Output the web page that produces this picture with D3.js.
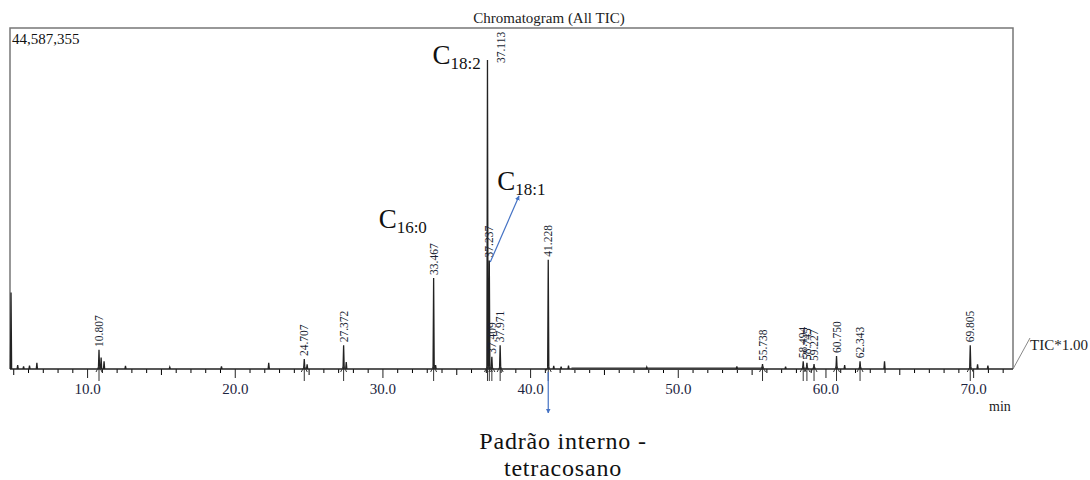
<!DOCTYPE html>
<html>
<head>
<meta charset="utf-8">
<script src="https://cdn.jsdelivr.net/npm/d3@7"></script>
<style>
  body { margin: 0; background: #fff; }
  svg text { font-family: "Liberation Serif", "DejaVu Serif", serif; }
</style>
</head>
<body>
<script>
// picos identificados (min) e intensidades (contagens)
const peakTimes = [10.807, 24.707, 27.372, 33.467, 37.113, 37.237, 37.409, 37.971, 41.228,
                   55.738, 58.494, 58.745, 59.227, 60.750, 62.343, 69.805]
const peakHeights = [2500000, 1300000, 3100000, 11900000, 40400000, 14200000, 1600000, 3100000, 14300000,
                     650000, 1000000, 800000, 650000, 1700000, 1000000, 3100000]

// pequenos picos sem rótulo
const bumpTimes = [4.85, 5.3, 5.7, 6.1, 6.6, 10.95, 11.15, 12.6, 15.6, 19.1, 22.3, 24.9, 27.55,
                   33.6, 41.6, 42.1, 42.6, 47.9, 54.0, 57.3, 61.3, 64.0, 70.3, 71.0]
const bumpHeights = [10000000, 500000, 350000, 450000, 800000, 1500000, 1000000, 400000, 250000, 350000, 800000, 600000, 900000,
                     500000, 400000, 300000, 450000, 250000, 350000, 300000, 500000, 1000000, 600000, 450000]

const xTicks = [10, 20, 30, 40, 50, 60, 70]
const maxIntensity = 44587355

const W = 1090, H = 480
const plotL = 10, plotR = 1013, plotT = 28, base = 369

let svg = d3.select('body').append('svg')
    .attr('width', W)
    .attr('height', H)
    .attr('font-family', '"Liberation Serif", "DejaVu Serif", serif')
    .style('background', '#fff')

let x = d3.scaleLinear().domain([4.78, 72.7]).range([plotL, plotR])
let y = d3.scaleLinear().domain([0, maxIntensity]).range([base, plotT])

// titulo e escala
svg.append('text')
    .attr('x', 549).attr('y', 23)
    .attr('text-anchor', 'middle')
    .attr('font-size', 15)
    .attr('fill', '#222')
    .text('Chromatogram (All TIC)')

svg.append('text')
    .attr('x', 12).attr('y', 44)
    .attr('font-size', 15)
    .attr('fill', '#111')
    .text(d3.format(',')(maxIntensity))

// moldura
svg.append('path')
    .attr('d', `M${plotL},${base} V${plotT} H${plotR} V${base}`)
    .attr('fill', 'none')
    .attr('stroke', '#777')
    .attr('stroke-width', 1.5)

// eixo x: ticks menores, médios e maiores
let minor = d3.range(5, 73, 1).filter(v => v % 5 != 0)
let mid = d3.range(5, 73, 5).filter(v => v % 10 != 0)

svg.append('g')
    .attr('transform', `translate(0,${base})`)
    .call(d3.axisBottom(x).tickValues(minor).tickSize(4).tickFormat(''))
    .call(g => g.select('.domain').remove())
svg.append('g')
    .attr('transform', `translate(0,${base})`)
    .call(d3.axisBottom(x).tickValues(mid).tickSize(6).tickFormat(''))
    .call(g => g.select('.domain').remove())

let ax = svg.append('g')
    .attr('transform', `translate(0,${base})`)
    .call(d3.axisBottom(x).tickValues(xTicks).tickSize(9).tickPadding(5).tickFormat(d3.format('.1f')))
ax.select('.domain').remove()
ax.selectAll('line').attr('stroke', '#222')
ax.selectAll('text').attr('font-size', 15).attr('fill', '#1c2440')
    .attr('font-family', '"Liberation Serif", serif')

// linha de base (faixa ruidosa entre 43 e 56 min)
svg.append('line')
    .attr('x1', x(42.8)).attr('x2', x(55.8))
    .attr('y1', base - 0.5).attr('y2', base - 0.5)
    .attr('stroke', '#999').attr('stroke-width', 3)

// traço do cromatograma
let all = peakTimes.map((t, i) => [t, peakHeights[i]])
    .concat(bumpTimes.map((t, i) => [t, bumpHeights[i]]))
    .sort((a, b) => a[0] - b[0])

let pts = [[x.domain()[0], 0]]
all.forEach(p => {
    pts.push([p[0] - 0.04, 0], [p[0], p[1]], [p[0] + 0.04, 0])
})
pts.push([x.domain()[1], 0])

svg.append('path')
    .datum(pts)
    .attr('d', d3.line().x(d => x(d[0])).y(d => y(d[1])))
    .attr('fill', 'none')
    .attr('stroke', '#222')
    .attr('stroke-width', 1.3)

// marcadores de integração abaixo da base
let mk = svg.append('g').attr('stroke', '#333').attr('fill', 'none')
peakTimes.forEach(t => {
    mk.append('line')
        .attr('x1', x(t)).attr('x2', x(t))
        .attr('y1', base).attr('y2', base + 12)
    mk.append('path')
        .attr('d', `M${x(t) - 3},${base + 3} L${x(t)},${base - 3} L${x(t) + 3},${base + 3}`)
})

// rótulos dos picos
const LABEL_LEN = 34
peakTimes.forEach((t, i) => {
    let px = x(t), bottom = y(peakHeights[i]) - 3
    if (bottom - LABEL_LEN < plotT) {
        bottom = plotT + LABEL_LEN + 1
        px += 13
    }
    svg.append('text')
        .attr('transform', `translate(${px},${bottom}) rotate(-90)`)
        .attr('dy', '0.35em')
        .attr('font-size', 11.5)
        .attr('fill', '#1a1f33')
        .text(t.toFixed(3))
})

// TIC*1.00
svg.append('line')
    .attr('x1', plotR).attr('y1', base)
    .attr('x2', plotR + 17).attr('y2', base - 31)
    .attr('stroke', '#888')
svg.append('text')
    .attr('x', plotR + 17).attr('y', 350)
    .attr('font-size', 15)
    .attr('fill', '#222')
    .text('TIC*1.00')

svg.append('text')
    .attr('x', 989).attr('y', 411)
    .attr('font-size', 14)
    .attr('fill', '#222')
    .text('min')

// anotações dos ácidos graxos
const notes = [
    { t: 37.113, sub: '18:2', dx: -55, yy: 64 },
    { t: 33.467, sub: '16:0', dx: -55, yy: 228 },
    { t: 37.237, sub: '18:1', dx: 8, yy: 190 }
]
notes.forEach(n => {
    let tx = svg.append('text')
        .attr('x', x(n.t) + n.dx).attr('y', n.yy)
        .attr('font-size', 27)
        .attr('fill', '#111')
    tx.append('tspan').text('C')
    tx.append('tspan').attr('font-size', 17).attr('dy', 5).text(n.sub)
})

// setas azuis
svg.append('defs').append('marker')
    .attr('id', 'arr')
    .attr('viewBox', '0 0 10 10')
    .attr('refX', 9).attr('refY', 5)
    .attr('markerWidth', 4).attr('markerHeight', 4)
    .attr('orient', 'auto')
    .append('path')
    .attr('d', 'M0,0 L10,5 L0,10 Z')
    .attr('fill', '#4472c4')

svg.append('line')
    .attr('x1', x(37.237) + 1).attr('y1', 262)
    .attr('x2', 519).attr('y2', 196)
    .attr('stroke', '#4472c4').attr('stroke-width', 1.2)
    .attr('marker-end', 'url(#arr)')

svg.append('line')
    .attr('x1', x(41.228)).attr('y1', 372)
    .attr('x2', x(41.228)).attr('y2', 413)
    .attr('stroke', '#4472c4').attr('stroke-width', 1.2)
    .attr('marker-end', 'url(#arr)')

svg.append('text')
    .attr('x', 563).attr('y', 449)
    .attr('text-anchor', 'middle')
    .attr('font-size', 24)
    .attr('letter-spacing', 0.8)
    .attr('fill', '#111')
    .text('Padrão interno -')
svg.append('text')
    .attr('x', 563).attr('y', 476)
    .attr('text-anchor', 'middle')
    .attr('font-size', 24)
    .attr('letter-spacing', 0.8)
    .attr('fill', '#111')
    .text('tetracosano')
</script>
</body>
</html>
